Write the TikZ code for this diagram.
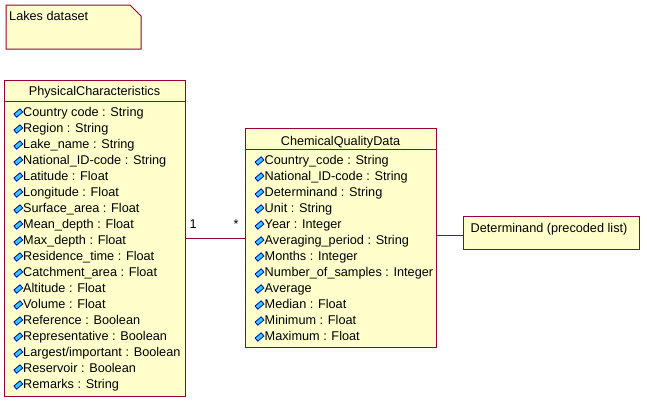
\documentclass[tikz,border=0pt]{standalone}
\usepackage{fontspec}
\setmainfont{Liberation Sans}
\usepackage{tikz}
\usetikzlibrary{positioning}

\definecolor{roseFill}{RGB}{255,255,204}
\definecolor{roseLine}{RGB}{153,0,51}
\definecolor{iconFill}{RGB}{51,204,255}
\definecolor{iconLine}{RGB}{0,0,204}

\begin{document}
\begin{tikzpicture}[x=1bp,y=-1bp,%%
  boxStyle/.style={draw=roseLine,fill=roseFill,line width=1bp,inner sep=0pt,anchor=north west},%%
  noteStyle/.style={draw=roseLine,fill=roseFill,line width=1bp},%%
  iconStyle/.style={draw=iconLine,fill=iconFill,line width=0.8bp,inner sep=0pt,minimum width=8bp,minimum height=4.2bp,rotate=40},%%
  textStyle/.style={inner sep=0pt,anchor=base west},%%
  titleStyle/.style={inner sep=0pt,anchor=base},%%
  lineStyle/.style={-,draw=roseLine,line width=1bp}%%
]
%%
%%
\pgfmathsetmacro{\rowSkip}{16}
\pgfmathsetmacro{\headHeight}{21}
\pgfmathsetmacro{\physTop}{80}
\pgfmathsetmacro{\chemTop}{128}
%%
\useasboundingbox (0,0) rectangle (647,401);
\fontsize{12.7bp}{16bp}\selectfont
%%
\coordinate (assocY) at (0,238.5);
\coordinate (detY) at (0,235);
%%
%% Draw the note.
\draw[noteStyle] (6,5) -- (130,5) -- (141,16) -- (141,49) -- (6,49) -- cycle;
\node[textStyle] (noteText) at (9,20) {Lakes dataset};
%%
%% Draw the first class.
\node[boxStyle,minimum width=181bp,minimum height=316bp] (physBox) at (4,\physTop) {};
\draw[lineStyle] ([yshift=-\headHeight bp]physBox.north west) -- ([yshift=-\headHeight bp]physBox.north east);
\node[titleStyle] (physTitle) at (94.5,\physTop+15.7) {PhysicalCharacteristics};
\foreach \attr [count=\i from 0] in {Country code : String,Region : String,Lake\_name : String,National\_ID-code : String,Latitude : Float,Longitude : Float,Surface\_area : Float,Mean\_depth : Float,Max\_depth : Float,Residence\_time : Float,Catchment\_area : Float,Altitude : Float,Volume : Float,Reference : Boolean,Representative : Boolean,Largest/important : Boolean,Reservoir : Boolean,Remarks : String}
{
  \node[iconStyle] (physIcon\i) at (18.3,\physTop+33+\rowSkip*\i) {};
  \node[textStyle] (physAttr\i) at (23,\physTop+36.5+\rowSkip*\i) {\attr};
}
%%
%% Draw the second class.
\node[boxStyle,minimum width=191bp,minimum height=219bp] (chemBox) at (245,\chemTop) {};
\draw[lineStyle] ([yshift=-\headHeight bp]chemBox.north west) -- ([yshift=-\headHeight bp]chemBox.north east);
\node[titleStyle] (chemTitle) at (340.5,\chemTop+17) {ChemicalQualityData};
\foreach \attr [count=\i from 0] in {Country\_code : String,National\_ID-code : String,Determinand : String,Unit : String,Year : Integer,Averaging\_period : String,Months : Integer,Number\_of\_samples : Integer,Average,Median : Float,Minimum : Float,Maximum : Float}
{
  \node[iconStyle] (chemIcon\i) at (259.5,\chemTop+33+\rowSkip*\i) {};
  \node[textStyle] (chemAttr\i) at (264.5,\chemTop+36.5+\rowSkip*\i) {\attr};
}
%%
%% Draw the precoded list.
\node[boxStyle,minimum width=176bp,minimum height=33bp] (detBox) at (462.5,215.5) {};
\node[textStyle] (detText) at (470.5,232) {Determinand (precoded list)};
%%
%% Connect the boxes.
\draw[lineStyle] (physBox.east |- assocY) -- (chemBox.west |- assocY);
\node[textStyle] (oneLabel) at (189.5,228) {1};
\node[textStyle] (manyLabel) at (233.5,228) {*};
\draw[lineStyle] (chemBox.east |- detY) -- (detBox.west |- detY);
\end{tikzpicture}
\end{document}
